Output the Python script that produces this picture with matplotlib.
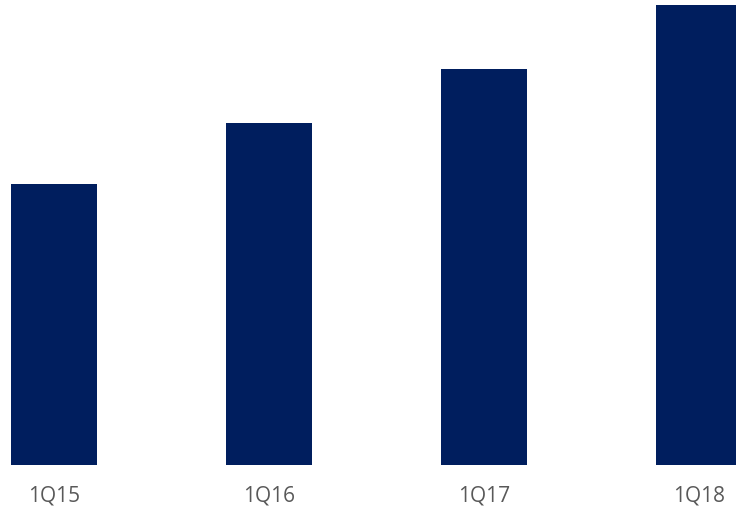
import matplotlib.pyplot as plt
import numpy as np

quarters = ["1Q15", "1Q16", "1Q17", "1Q18"]
values = [281, 342, 396, 460]

BAR_COLOR = "#001E5E"
LABEL_COLOR = "#595959"


def main() -> None:
    fig = plt.figure(figsize=(7.36, 5.09), dpi=100)
    ax = fig.add_axes([0, 0.087, 1, 0.913])

    x = np.arange(len(quarters))
    ax.bar(x, values, width=0.4, color=BAR_COLOR)

    ax.set_xlim(-54 / 215, -54 / 215 + 736 / 215)
    ax.set_ylim(0, 464.7)
    ax.set_xticks(x)
    ax.set_xticklabels(quarters, fontsize=15, color=LABEL_COLOR, family=["Open Sans", "DejaVu Sans"])
    ax.tick_params(axis="x", length=0, pad=15)
    ax.set_yticks([])
    for spine in ax.spines.values():
        spine.set_visible(False)

    fig.savefig("out.png", dpi=100)


if __name__ == "__main__":
    main()
